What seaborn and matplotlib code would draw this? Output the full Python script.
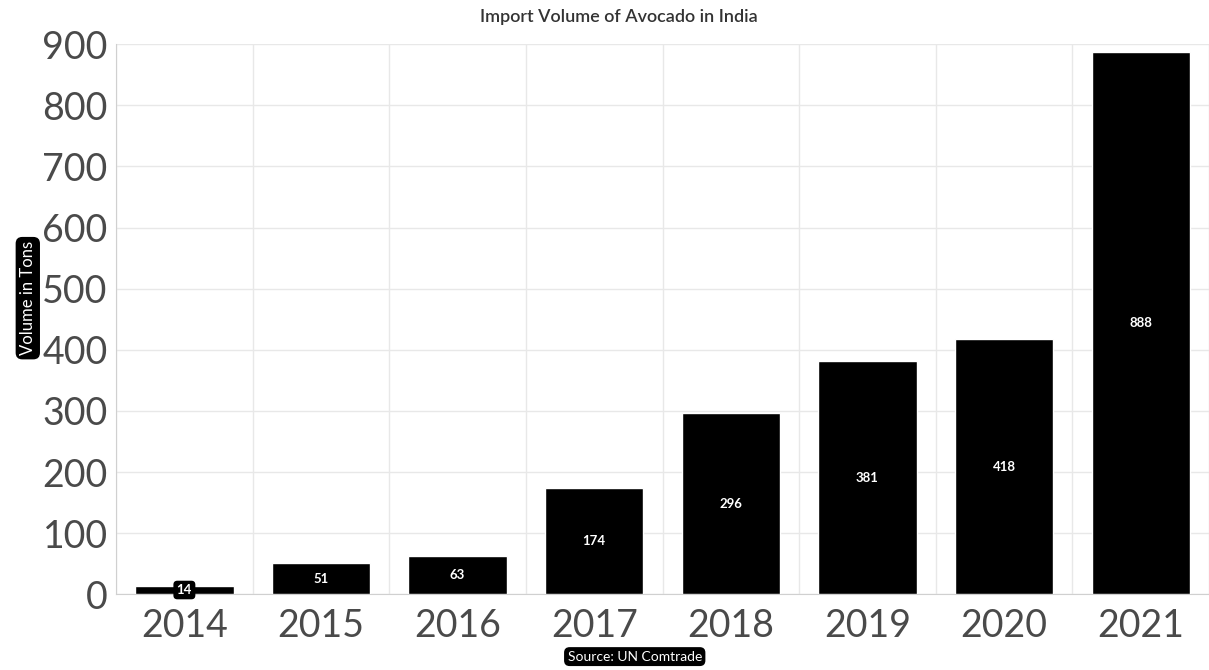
import matplotlib
matplotlib.use("Agg")
import matplotlib.pyplot as plt
import numpy as np
import pandas as pd
import seaborn as sns

# data
years = ["2014", "2015", "2016", "2017", "2018", "2019", "2020", "2021"]
volume = [14, 51, 63, 174, 296, 381, 418, 888]
y_ticks = [0, 100, 200, 300, 400, 500, 600, 700, 800, 900]

df = pd.DataFrame({"Year": years, "Volume": volume})

sns.set_style("white")
plt.rcParams["font.family"] = ["Lato", "DejaVu Sans"]

fig = plt.figure(figsize=(12.09, 6.70), dpi=100)
ax = fig.add_axes([0.096, 0.113, 0.904, 0.821])

sns.barplot(data=df, x="Year", y="Volume", color="black", saturation=1,
            width=0.72, ax=ax, zorder=3)

ax.set_ylim(0, 900)
ax.set_xlim(-0.5, len(years) - 0.5)
ax.set_yticks(y_ticks)

# grid: horizontal at ticks, vertical between categories
ax.set_xticks(np.arange(len(years) + 1) - 0.5, minor=True)
ax.grid(axis="y", which="major", color="#e8e8e8", linewidth=1, zorder=0)
ax.grid(axis="x", which="minor", color="#e8e8e8", linewidth=1, zorder=0)
ax.tick_params(axis="both", which="both", length=0, labelsize=27,
               labelcolor="#4a4a4a")
ax.tick_params(axis="x", pad=10)
ax.tick_params(axis="y", pad=6)
for s in ["top", "right"]:
    ax.spines[s].set_visible(False)
ax.spines["left"].set_color("#d0d0d0")
ax.spines["bottom"].set_color("#d0d0d0")

ax.set_xlabel("")
ax.set_ylabel("")

# value labels in the middle of each bar
for i, v in enumerate(volume):
    box = None
    if v < 30:
        box = dict(boxstyle="round,pad=0.25,rounding_size=0.3", fc="black", ec="none")
    ax.text(i, v / 2, str(v), ha="center", va="center", color="white",
            fontsize=9.5, fontweight="bold", bbox=box, zorder=5)

fig.text(0.512, 0.974, "Import Volume of Avocado in India", ha="center",
         va="center", fontsize=13, color="#333333", fontweight="semibold")

fig.text(0.023, 0.555, "Volume in Tons", rotation=90, ha="center", va="center",
         fontsize=12, color="white",
         bbox=dict(boxstyle="round,pad=0.25,rounding_size=0.4", fc="black", ec="none"))

fig.text(0.525, 0.02, "Source: UN Comtrade", ha="center", va="center",
         fontsize=10, color="white",
         bbox=dict(boxstyle="round,pad=0.25,rounding_size=0.4", fc="black", ec="none"))

fig.savefig("out.png", dpi=100)
